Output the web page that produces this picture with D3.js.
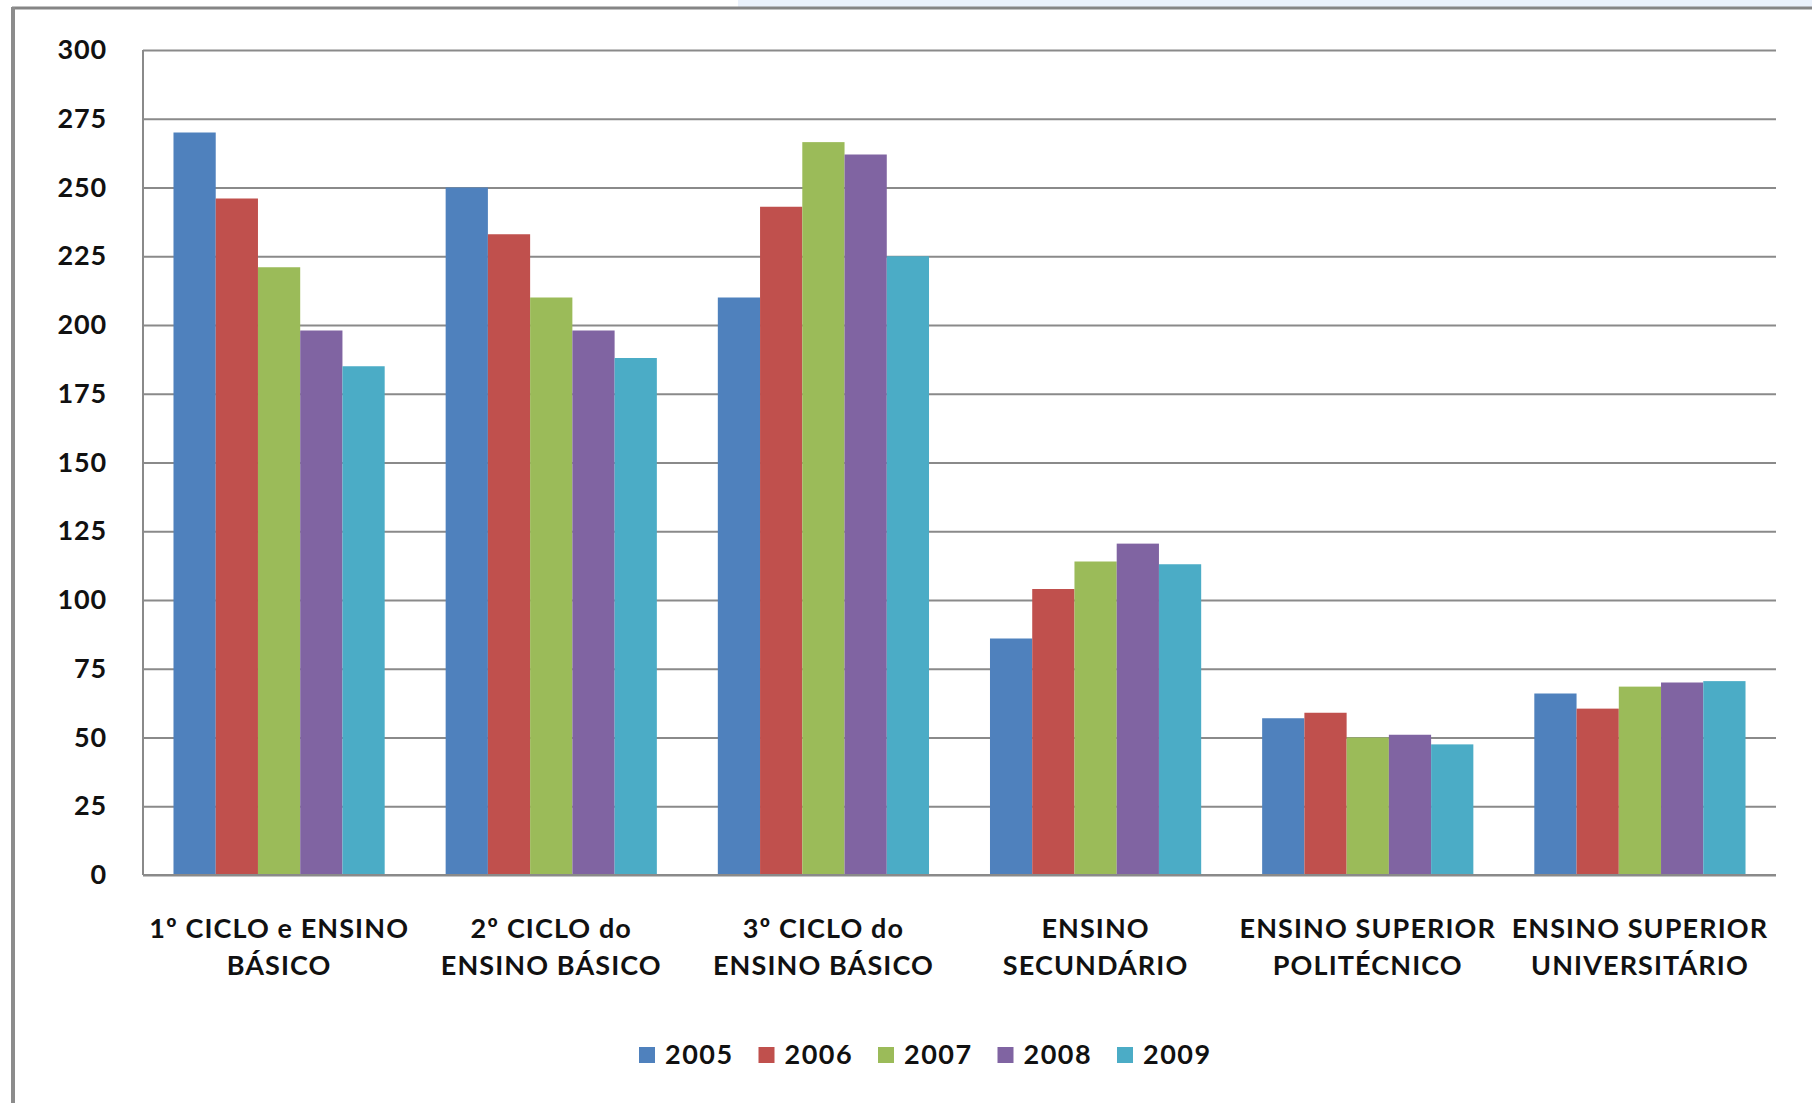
<!DOCTYPE html>
<html>
<head>
<meta charset="utf-8">
<script src="https://cdn.jsdelivr.net/npm/d3@7"></script>
<style>
  body { margin: 0; background: #fff; }
  svg { display: block; font-family: Lato, "Open Sans", sans-serif; font-weight: bold; }
  .grid line { stroke: #8a8a8a; stroke-width: 2; }
  .grid path { display: none; }
  .tick text { fill: #111; }
</style>
</head>
<body>
<div id="root"></div>
<script>
const categories = [
  ["1º CICLO e ENSINO", "BÁSICO"],
  ["2º CICLO do", "ENSINO BÁSICO"],
  ["3º CICLO do", "ENSINO BÁSICO"],
  ["ENSINO", "SECUNDÁRIO"],
  ["ENSINO SUPERIOR", "POLITÉCNICO"],
  ["ENSINO SUPERIOR", "UNIVERSITÁRIO"]
];
const years = ["2005", "2006", "2007", "2008", "2009"];
const values2005 = [270, 250, 210, 86, 57, 66];
const values2006 = [246, 233, 243, 104, 59, 60.5];
const values2007 = [221, 210, 266.5, 114, 50, 68.5];
const values2008 = [198, 198, 262, 120.5, 51, 70];
const values2009 = [185, 188, 225, 113, 47.5, 70.5];
const yTicks = [0, 25, 50, 75, 100, 125, 150, 175, 200, 225, 250, 275, 300];
const colors = ["#4f81bd", "#c0504d", "#9bbb59", "#8064a2", "#4bacc6"];

const series = [values2005, values2006, values2007, values2008, values2009];

const outerWidth = 1812;
const outerHeight = 1103;
const plot = { left: 143, right: 1776, top: 50, bottom: 875 };

const svg = d3.select("#root")
              .append("svg")
              .attr("width", outerWidth)
              .attr("height", outerHeight);

// frame of the original picture
svg.append("rect").attr("x", 738).attr("y", 0).attr("width", outerWidth - 738).attr("height", 7).attr("fill", "#eaf1fb");
svg.append("line").attr("x1", 12).attr("x2", outerWidth).attr("y1", 8).attr("y2", 8)
   .attr("stroke", "#858585").attr("stroke-width", 3);
svg.append("line").attr("x1", 13).attr("x2", 13).attr("y1", 7).attr("y2", outerHeight)
   .attr("stroke", "#8c8c8c").attr("stroke-width", 4);

const catIndex = categories.map((c, i) => i);

let scaleX = d3.scaleBand().domain(catIndex).range([plot.left, plot.right]);
let gap = scaleX.step() * 0.224;
let scaleX1 = d3.scaleBand().domain(years).range([gap / 2, scaleX.step() - gap / 2]);
let scaleY = d3.scaleLinear().domain([0, 300]).range([plot.bottom, plot.top]);

// gridlines + y labels
let yAxis = d3.axisLeft(scaleY)
              .tickValues(yTicks)
              .tickSize(-(plot.right - plot.left))
              .tickPadding(36);

svg.append("g")
   .attr("class", "grid")
   .attr("transform", `translate(${plot.left}, 0)`)
   .call(yAxis)
   .call(g => g.selectAll(".tick text")
               .attr("font-size", 27)
               .attr("letter-spacing", 0.8)
               .attr("font-family", "Lato, sans-serif")
               .attr("font-weight", "bold"));

// bars
let groups = svg.append("g")
    .selectAll(".group")
    .data(catIndex)
    .enter().append("g")
    .attr("class", "group")
    .attr("transform", d => `translate(${scaleX(d)}, 0)`);

groups.selectAll("rect")
    .data(c => years.map((y, j) => ({ year: y, j: j, value: series[j][c] })))
    .enter().append("rect")
    .attr("x", d => scaleX1(d.year))
    .attr("width", scaleX1.bandwidth())
    .attr("y", d => scaleY(d.value))
    .attr("height", d => scaleY(0) - scaleY(d.value))
    .attr("fill", d => colors[d.j]);

// y axis line and base line drawn over bars
svg.append("line").attr("x1", plot.left).attr("x2", plot.left)
   .attr("y1", plot.top).attr("y2", plot.bottom)
   .attr("stroke", "#8a8a8a").attr("stroke-width", 2);
svg.append("line").attr("x1", plot.left).attr("x2", plot.right)
   .attr("y1", plot.bottom).attr("y2", plot.bottom)
   .attr("stroke", "#8a8a8a").attr("stroke-width", 2);

// category labels
let catLabels = svg.append("g")
    .selectAll("text")
    .data(categories)
    .enter().append("text")
    .attr("text-anchor", "middle")
    .attr("font-size", 27)
    .attr("letter-spacing", 1.1)
    .attr("fill", "#111")
    .attr("transform", (d, i) => `translate(${scaleX(i) + scaleX.bandwidth() / 2}, 938)`);

catLabels.selectAll("tspan")
    .data(d => d)
    .enter().append("tspan")
    .attr("x", 0)
    .attr("dy", (d, i) => i === 0 ? 0 : 37)
    .text(d => d);

// legend
let legend = svg.append("g")
    .selectAll(".legend")
    .data(years)
    .enter().append("g")
    .attr("class", "legend")
    .attr("transform", (d, i) => `translate(${639 + i * 119.5}, 1055)`);

legend.append("rect")
    .attr("y", -8)
    .attr("width", 16)
    .attr("height", 16)
    .attr("fill", (d, i) => colors[i]);

legend.append("text")
    .attr("x", 26)
    .attr("dy", "0.35em")
    .attr("font-size", 27)
    .attr("letter-spacing", 1.5)
    .attr("fill", "#111")
    .text(d => d);
</script>
</body>
</html>
